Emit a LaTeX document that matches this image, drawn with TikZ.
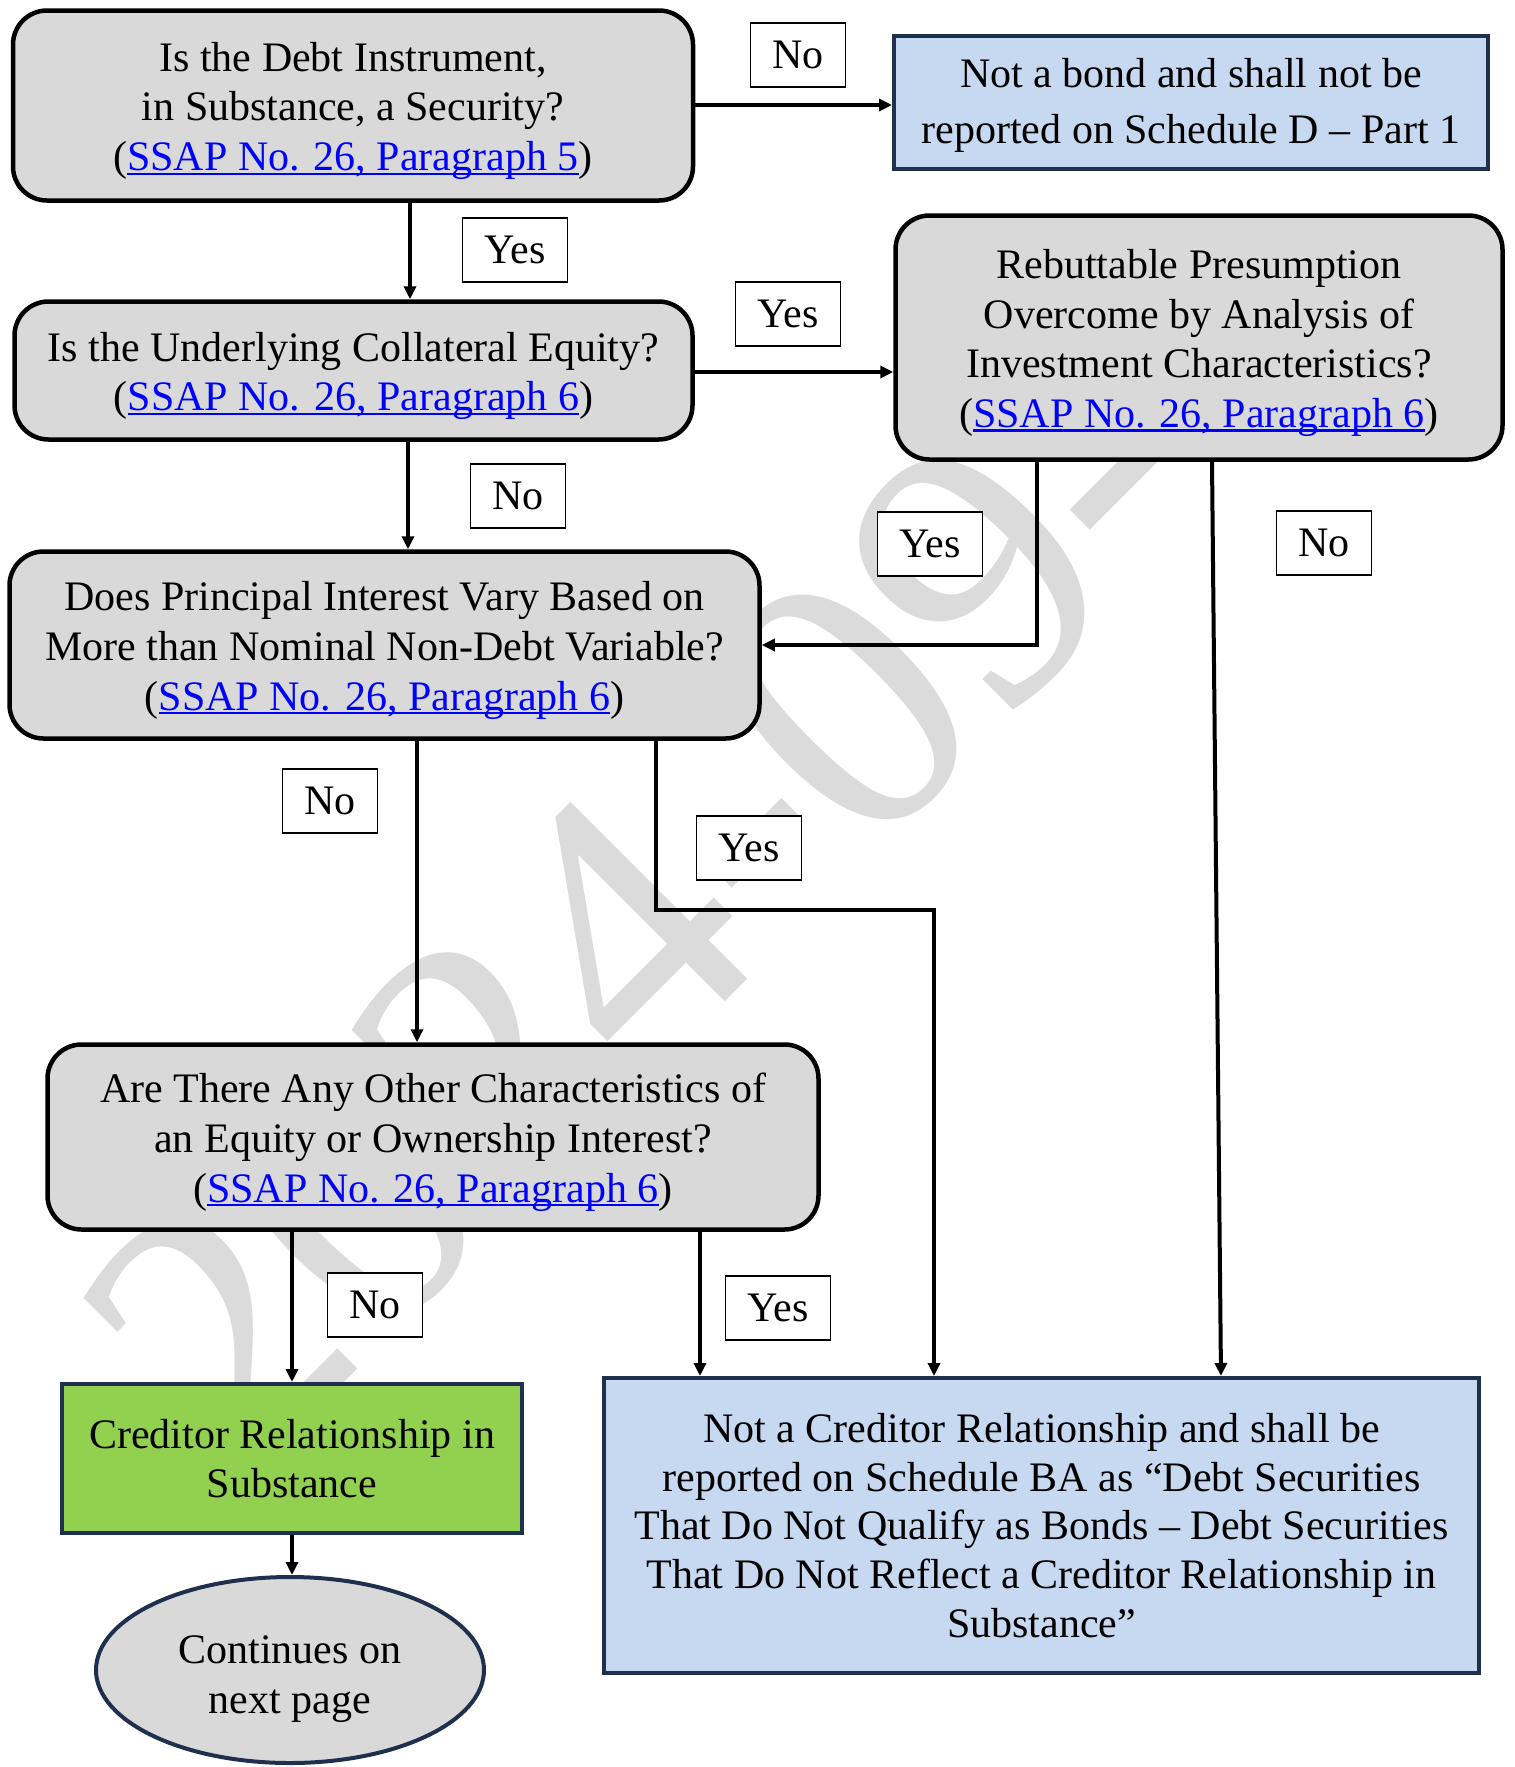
\documentclass[tikz,border=0pt]{standalone}
\usepackage{fontspec}
\setmainfont{Liberation Serif}
\usetikzlibrary{shapes.geometric,arrows.meta,calc}
\definecolor{boxgray}{HTML}{D9D9D9}
\definecolor{boxblue}{HTML}{C6D9F1}
\definecolor{boxgreen}{HTML}{92D050}
\definecolor{navy}{RGB}{30,48,78}
\definecolor{linkblue}{HTML}{0000FF}
\definecolor{wmgray}{RGB}{219,219,219}
\newsavebox\lnkbox
\newcommand\ulnk[1]{\sbox\lnkbox{#1}\rlap{\rule[-4.2pt]{\wd\lnkbox}{2.2pt}}\usebox\lnkbox}
\newcommand\mainfs{\fontsize{42}{49.6}\selectfont}
\newcommand\ssap[1]{(\textcolor{linkblue}{\ulnk{SSAP No. 26, Paragraph #1}})}
\newcommand\tgap[1]{\rule{0pt}{#1}}
\begin{document}
\begin{tikzpicture}[x=1pt,y=-1pt,
  gbox/.style={draw=black, line width=4.5pt, fill=boxgray, rounded corners=34pt, align=center, font=\mainfs, inner sep=0pt},
  bbox/.style={draw=navy, line width=4pt, fill=boxblue, align=center, font=\mainfs, inner sep=0pt},
  grbox/.style={draw=navy, line width=4pt, fill=boxgreen, align=center, font=\mainfs, inner sep=0pt},
  ebox/.style={ellipse, draw=navy, line width=4pt, fill=boxgray, align=center, font=\mainfs, inner sep=0pt},
  lbl/.style={draw=black, line width=1.3pt, fill=white, font=\mainfs, minimum height=64pt, inner xsep=22pt, inner ysep=0pt},
  arr/.style={line width=4pt, line join=miter, -{Triangle[length=13pt,width=12pt]}},
  wm/.style={text=wmgray, font=\fontsize{380}{380}\selectfont, inner sep=0pt}
]
\useasboundingbox (0,0) rectangle (1515,1767);
% watermark
\node[wm, rotate=45, anchor=base west] (wm) at (238,1489) {2024-09-0};
% boxes
\node[gbox, minimum width=680pt, minimum height=190pt] (B1) at (353,105.5)
  {\tgap{40pt}Is the Debt Instrument,\\in Substance, a Security?\\\ssap{5}};
\node[bbox, minimum width=594pt, minimum height=133pt, font=\fontsize{42}{56}\selectfont] (NB) at (1191,102.5)
  {\tgap{34pt}Not a bond and shall not be\\reported on Schedule D -- Part 1};
\node[gbox, minimum width=678pt, minimum height=138pt] (B2) at (353.5,370.5)
  {\tgap{40pt}Is the Underlying Collateral Equity?\\\ssap{6}};
\node[gbox, minimum width=607pt, minimum height=244pt] (R) at (1199,337.5)
  {\tgap{40pt}Rebuttable Presumption\\Overcome by Analysis of\\Investment Characteristics?\\\ssap{6}};
\node[gbox, minimum width=750pt, minimum height=187pt] (B3) at (384.5,645)
  {\tgap{40pt}Does Principal Interest Vary Based on\\More than Nominal Non-Debt Variable?\\\ssap{6}};
\node[gbox, minimum width=771pt, minimum height=185pt] (B4) at (433,1137)
  {\tgap{40pt}Are There Any Other Characteristics of\\an Equity or Ownership Interest?\\\ssap{6}};
\node[grbox, minimum width=460pt, minimum height=149pt] (G) at (292,1458.5)
  {Creditor Relationship in\\Substance};
\node[bbox, minimum width=875pt, minimum height=295pt, font=\fontsize{42}{48.8}\selectfont] (BA) at (1041.5,1525.5)
  {Not a Creditor Relationship and shall be\\reported on Schedule BA as “Debt Securities\\That Do Not Qualify as Bonds -- Debt Securities\\That Do Not Reflect a Creditor Relationship in\\Substance”};
\node[ebox, minimum width=388pt, minimum height=186pt] (E) at (290,1670)
  {\tgap{46.5pt}Continues on\\next page};
% helper coordinates
\coordinate (y1nb) at (0,105);
\coordinate (x12) at (410,0);
\coordinate (y2r) at (0,372);
\coordinate (x23) at (408,0);
\coordinate (xr3) at (1037,0);
\coordinate (xrba1) at (1212,0);
\coordinate (xrba2) at (1221,0);
\coordinate (x34) at (417,0);
\coordinate (x3ba) at (656,0);
\coordinate (t3ba) at (934,910);
\coordinate (x4ba) at (700,0);
% connectors
\draw[arr] (B1.east |- y1nb) -- (NB.west |- y1nb);
\draw[arr] (B1.south -| x12) -- (B2.north -| x12);
\draw[arr] (B2.east |- y2r) -- (R.west |- y2r);
\draw[arr] (B2.south -| x23) -- (B3.north -| x23);
\draw[arr] (R.south -| xr3) |- (B3.east);
\draw[arr] (R.south -| xrba1) -- (BA.north -| xrba2);
\draw[arr] (B3.south -| x34) -- (B4.north -| x34);
\draw[arr] (B3.south -| x3ba) |- (t3ba) -- (BA.north -| t3ba);
\draw[arr] (B4.south -| G.north) -- (G.north);
\draw[arr] (B4.south -| x4ba) -- (BA.north -| x4ba);
\draw[arr] (G.south) -- (E.north -| G.south);
% labels
\node[lbl] (l1) at (798,55) {No};
\node[lbl] (l2) at (515,250) {Yes};
\node[lbl] (l3) at (788,314) {Yes};
\node[lbl] (l4) at (518,496) {No};
\node[lbl] (l5) at (930,544) {Yes};
\node[lbl] (l6) at (1324,543) {No};
\node[lbl] (l7) at (330,801) {No};
\node[lbl] (l8) at (749,848) {Yes};
\node[lbl] (l9) at (375,1305) {No};
\node[lbl] (l10) at (778,1308) {Yes};
\end{tikzpicture}
\end{document}
